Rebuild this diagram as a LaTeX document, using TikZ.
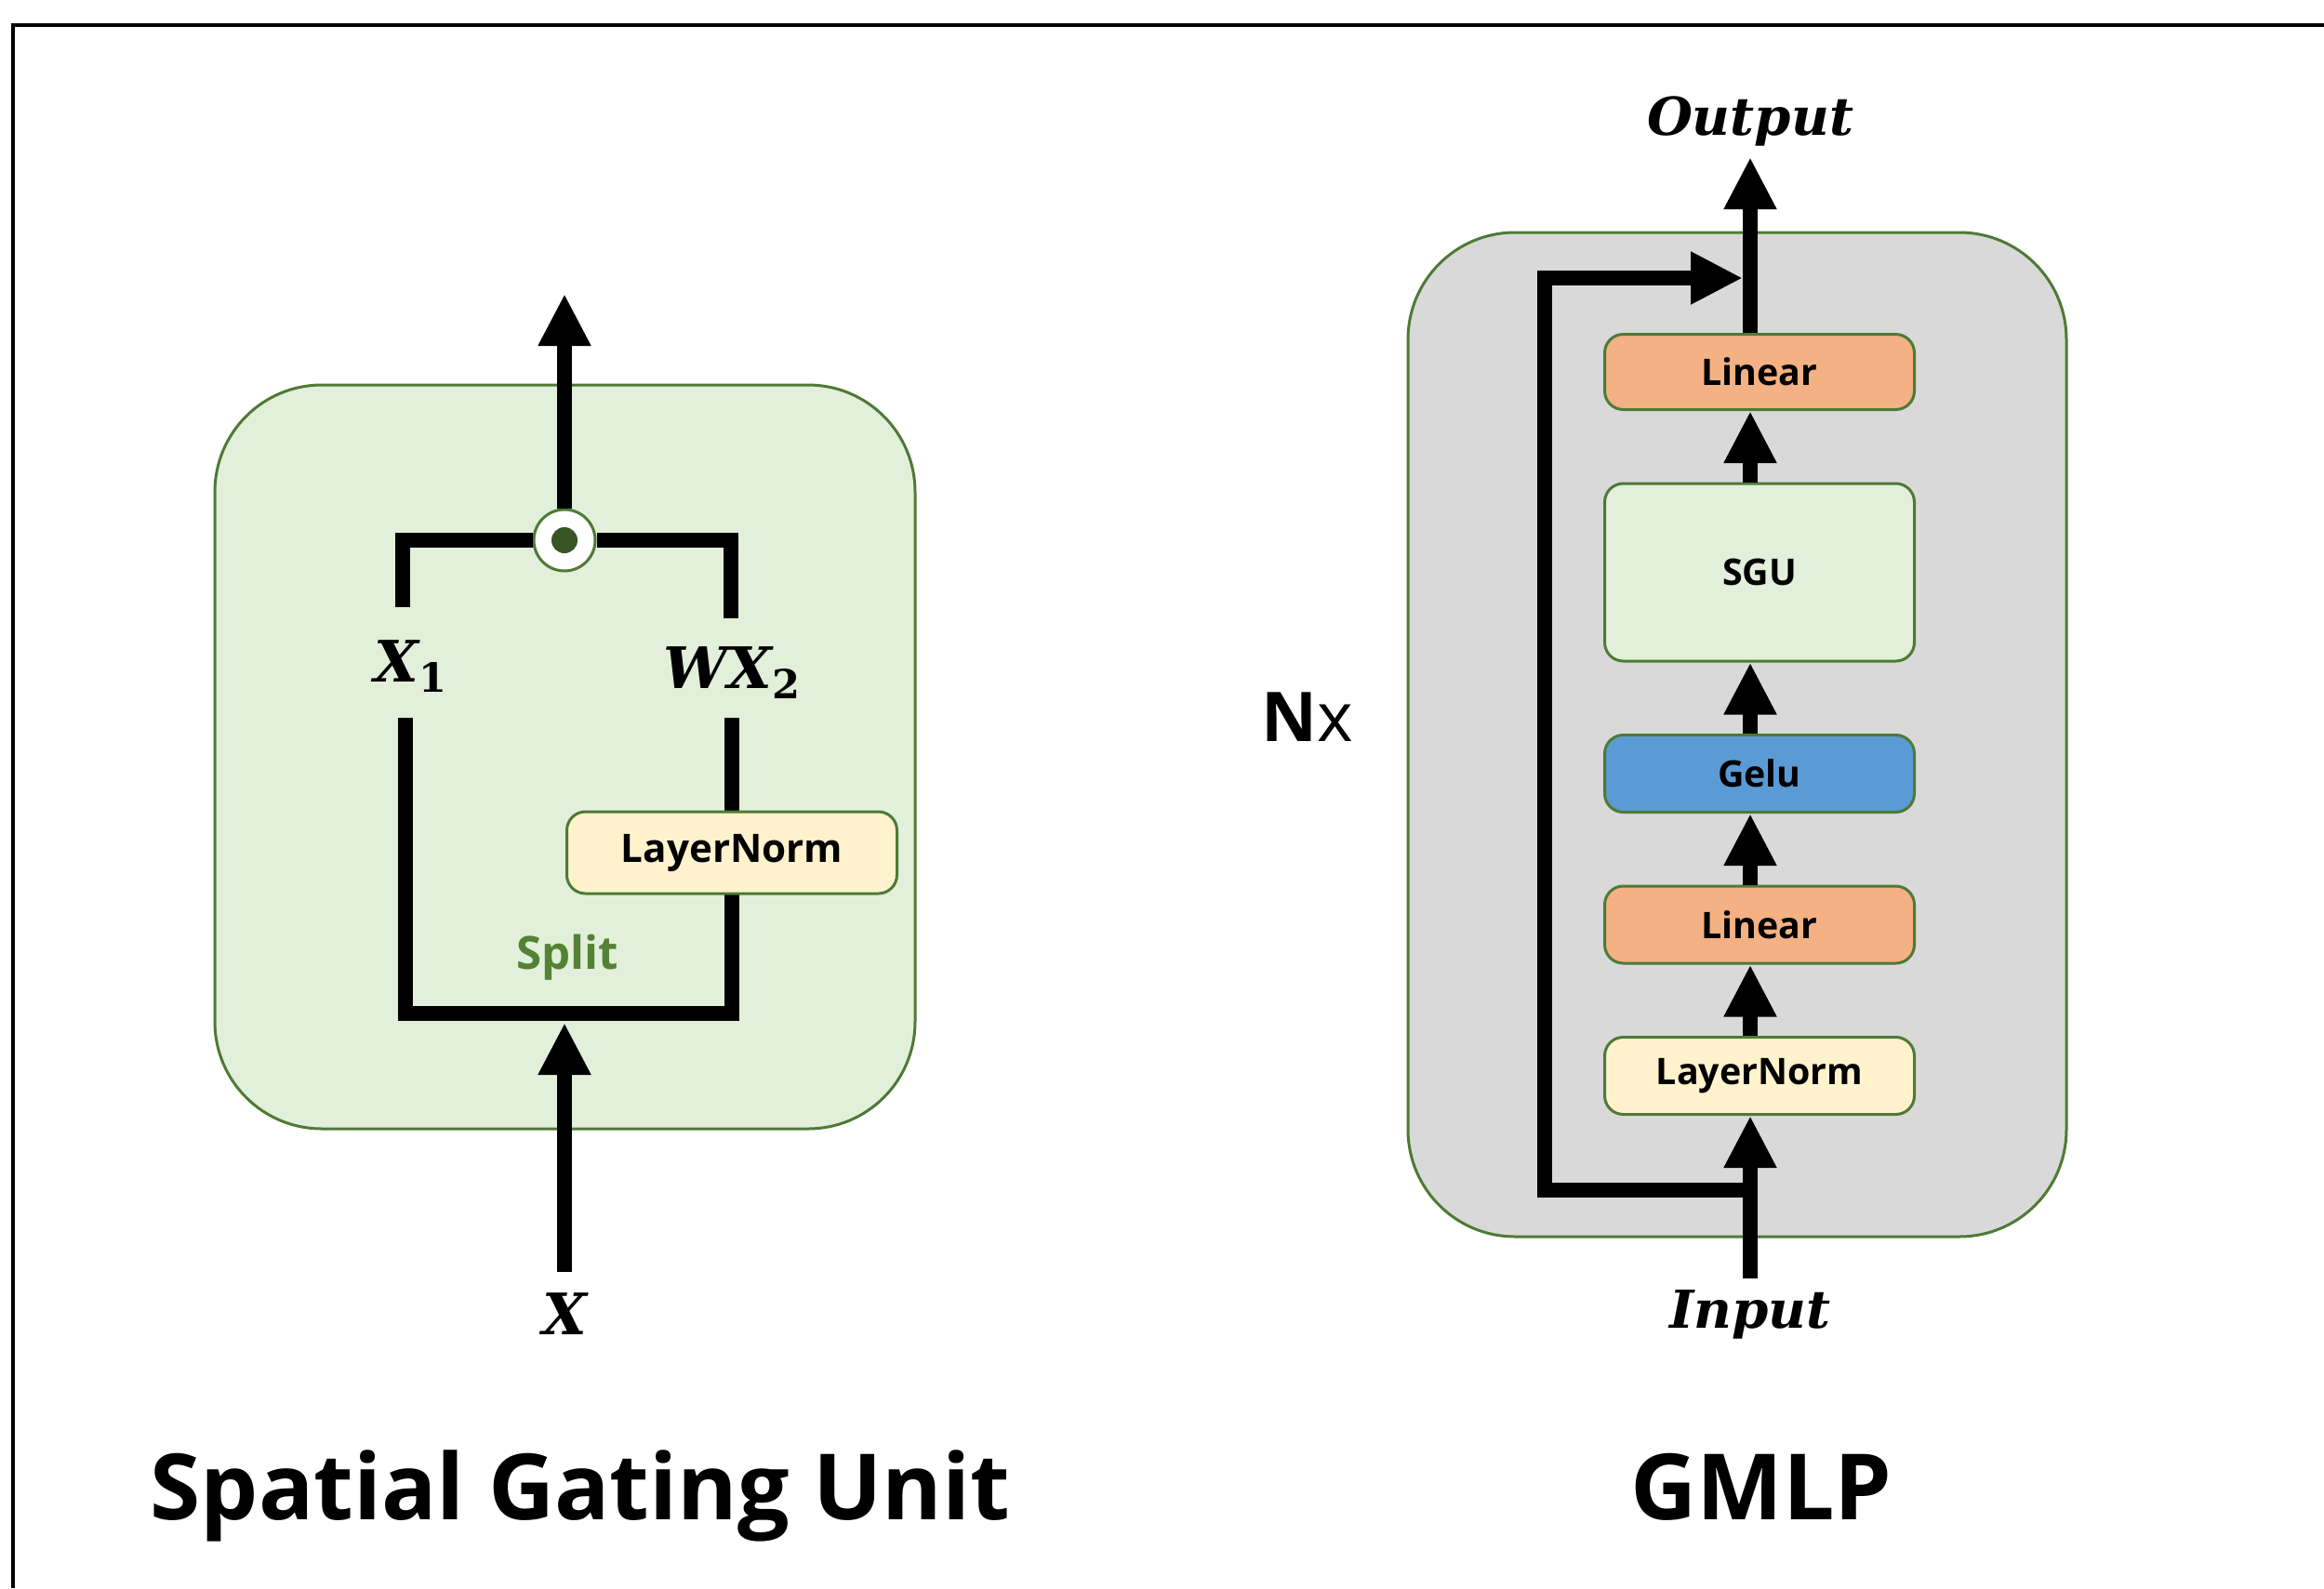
\documentclass[tikz,border=0pt]{standalone}
\usepackage{fontspec}
\setmainfont{Open Sans}
\newfontfamily\varfont{DejaVu Serif}
\usepackage{xcolor}
\usetikzlibrary{arrows.meta, positioning}

\definecolor{edgegreen}{HTML}{4E7A35}
\definecolor{sgufill}{HTML}{E2EFDA}
\definecolor{gmlpfill}{HTML}{D9D9D9}
\definecolor{linfill}{HTML}{F4B183}
\definecolor{gelufill}{HTML}{5B9BD5}
\definecolor{lnfill}{HTML}{FFF2CC}
\definecolor{splitgreen}{HTML}{548235}
\definecolor{dotgreen}{HTML}{375623}

\begin{document}
\begin{tikzpicture}[
    block/.style={rectangle, draw=edgegreen, line width=0.03cm, rounded corners=0.2cm, minimum width=3.33cm, minimum height=0.83cm, align=center, font=\fontsize{11.2}{14}\selectfont\bfseries},
    panel/.style={rectangle, draw=edgegreen, line width=0.03cm, rounded corners=1.15cm},
    pipe/.style={line width=0.16cm},
    arrow/.style={pipe, -{Triangle[width=0.53cm,length=0.56cm]}},
    mathlbl/.style={anchor=base, font=\varfont\fontsize{17.5}{21}\selectfont\bfseries\itshape},
    ioname/.style={anchor=base, font=\varfont\fontsize{16}{19}\selectfont\bfseries\itshape},
    title/.style={font=\fontsize{28}{34}\selectfont\bfseries, anchor=base}
]

\useasboundingbox (0,0) rectangle (24.99,-17.08);
\draw[line width=0.04cm] (0.14,-17.08) -- (0.14,-0.27) -- (24.99,-0.27);

% Spatial Gating Unit
\node[panel, fill=sgufill, minimum width=7.53cm, minimum height=8.0cm] (sgupanel) at (6.075,-8.14) {};

\coordinate (x1up) at (4.33,-6.53);
\coordinate (wx2up) at (7.86,-6.65);
\coordinate (x1low) at (4.36,-7.72);
\coordinate (wx2low) at (7.87,-7.72);
\coordinate (splitpt) at (6.07,-10.90);
\coordinate (sguout) at (6.07,-3.16);

\node[circle, draw=edgegreen, fill=white, line width=0.03cm, minimum size=0.66cm, inner sep=0pt] (mul) at (6.07,-5.81) {};
\node[circle, fill=dotgreen, minimum size=0.28cm, inner sep=0pt] (muldot) at (mul) {};

\draw[pipe] (x1up) |- (mul.west);
\draw[pipe] (wx2up) |- (mul.east);
\draw[arrow] (mul.north) -- (sguout);

\draw[pipe] (x1low) |- (splitpt) -| (wx2low);
\node[block, fill=lnfill, minimum width=3.55cm, minimum height=0.88cm, font=\fontsize{12}{14}\selectfont\bfseries] (sguln) at (7.87,-9.17) {LayerNorm};
\node[font=\fontsize{14}{17}\selectfont\bfseries, text=splitgreen] (splitlbl) at (6.10,-10.30) {Split};

\node[mathlbl] (x1lbl) at (4.42,-7.33) {X\textsubscript{\upshape 1}};
\node[mathlbl] (wx2lbl) at (7.88,-7.40) {WX\textsubscript{\upshape 2}};
\node[mathlbl, outer sep=0.1cm] (xin) at (6.07,-14.35) {X};
\draw[arrow, shorten >=0.1cm] (xin.north) -- (splitpt);

\node[title] (sgutitle) at (6.24,-16.34) {Spatial Gating Unit};

% GMLP
\node[panel, fill=gmlpfill, minimum width=7.08cm, minimum height=10.8cm] (gmlppanel) at (18.68,-7.90) {};

\node[block, fill=lnfill] (ln) at (18.92,-11.57) {LayerNorm};
\node[block, fill=linfill, above=0.765cm of ln] (lin1) {Linear};
\node[block, fill=gelufill, above=0.765cm of lin1] (gelu) {Gelu};
\node[block, fill=sgufill, minimum height=1.91cm, above=0.765cm of gelu] (sgu) {SGU};
\node[block, fill=linfill, minimum height=0.81cm, above=0.765cm of sgu] (lin2) {Linear};

\node[ioname] (inp) at (18.82,-14.28) {Input};
\node[ioname] (outp) at (18.82,-1.45) {Output};

\draw[arrow] (inp.north) -- (ln.south -| inp);
\draw[arrow] (ln.north -| inp) -- (lin1.south -| inp);
\draw[arrow] (lin1.north -| inp) -- (gelu.south -| inp);
\draw[arrow] (gelu.north -| inp) -- (sgu.south -| inp);
\draw[arrow] (sgu.north -| inp) -- (lin2.south -| inp);
\draw[arrow] (lin2.north -| inp) -- (outp.south);

\coordinate (skipstart) at (18.82,-12.80);
\coordinate (skipend) at (18.82,-2.99);
\draw[arrow, shorten >=0.08cm] (skipstart) -- ++(-2.21,0) |- (skipend);

\node[font=\fontsize{21}{25}\selectfont, anchor=base] (nx) at (14.06,-7.97) {\textbf{N}x};

\node[title] (gmlptitle) at (18.94,-16.34) {GMLP};

\end{tikzpicture}
\end{document}
